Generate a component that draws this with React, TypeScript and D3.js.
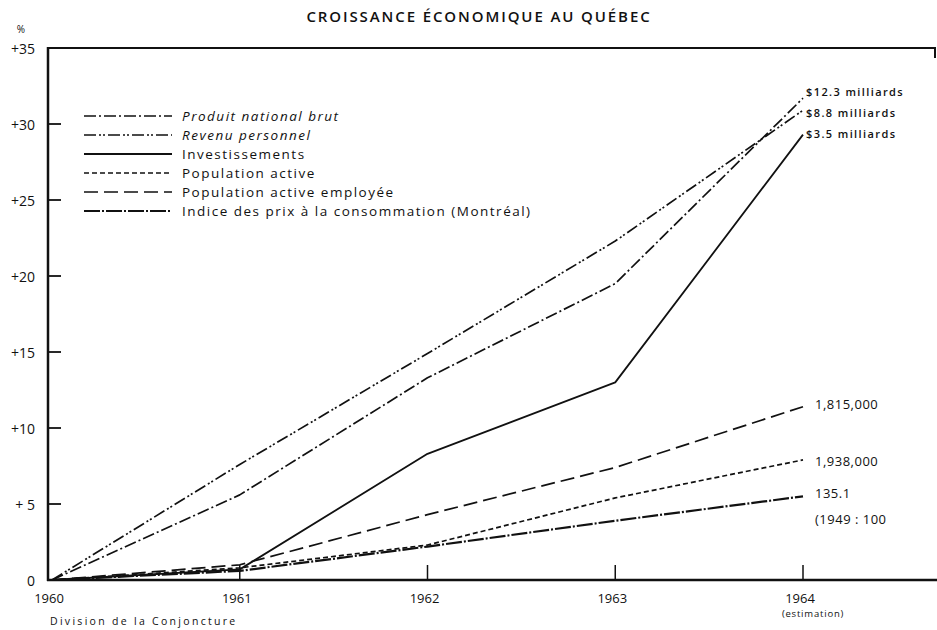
import React from "react";
import * as d3 from "d3";

const years = [1960, 1961, 1962, 1963, 1964];
const yTicks = [0, 5, 10, 15, 20, 25, 30, 35];
const yTickLabels = ["0", "+ 5", "+10", "+15", "+20", "+25", "+30", "+35"];
const xTickLabels = ["1960", "1961", "1962", "1963", "1964"];

const seriesNames = [
  "Produit national brut",
  "Revenu personnel",
  "Investissements",
  "Population active",
  "Population active employée",
  "Indice des prix à la consommation (Montréal)",
];
const pnb = [0, 5.6, 13.3, 19.5, 31.7];
const revenu = [0, 7.6, 14.9, 22.3, 30.9];
const invest = [0, 0.7, 8.3, 13.0, 29.3];
const popActive = [0, 0.8, 2.3, 5.4, 7.9];
const popEmployee = [0, 1.0, 4.3, 7.4, 11.4];
const indicePrix = [0, 0.6, 2.2, 3.9, 5.5];
const seriesValues = [pnb, revenu, invest, popActive, popEmployee, indicePrix];
const endLabels = [
  ["$12.3 milliards"],
  ["$8.8 milliards"],
  ["$3.5 milliards"],
  ["1,938,000"],
  ["1,815,000"],
  ["135.1", "(1949 :  100"],
];

const dashes = ["12,3,2,3", "12,3,2,2,2,3", "", "5,3", "14,6", "16,2,2,2"];
const widths = [1.7, 1.7, 1.8, 1.7, 1.7, 2.2];
const italic = [true, true, false, false, false, false];

const FONT = "'Open Sans', 'Noto Sans', sans-serif";

export default function App() {
  const W = 937, H = 630;
  const x = d3.scaleLinear().domain([1960, 1964]).range([52, 803]);
  const y = d3.scaleLinear().domain([0, 35]).range([580, 48]);
  const line = d3
    .line<number>()
    .x((_, i) => x(years[i]))
    .y((v) => y(v));

  const endLabelY = [92, 113, 134, 462, 405, 494];

  return (
    <svg
      width={W}
      height={H}
      style={{ position: "absolute", left: 0, top: 0, background: "#fff" }}
      fontFamily={FONT}
    >
      <rect x={0} y={0} width={W} height={H} fill="#fff" />
      <text x={479} y={22} textAnchor="middle" fontSize={15} fontWeight={600} letterSpacing={1.9} fill="#111">
        CROISSANCE ÉCONOMIQUE AU QUÉBEC
      </text>
      {/* frame */}
      <line x1={48} y1={y(35)} x2={935} y2={y(35)} stroke="#111" strokeWidth={2} />
      <line x1={935} y1={y(35) - 1} x2={935} y2={y(35) + 10} stroke="#111" strokeWidth={2} />
      <line x1={48} y1={y(35) - 1} x2={48} y2={y(0) + 1} stroke="#111" strokeWidth={2.5} />
      <line x1={47} y1={y(0)} x2={937} y2={y(0)} stroke="#111" strokeWidth={2.5} />
      <text x={21} y={33} fontSize={10} textAnchor="middle" fill="#111">%</text>
      {yTicks.map((t, i) => (
        <g key={t}>
          {t > 0 && t < 35 && (
            <line x1={48} x2={61} y1={y(t)} y2={y(t)} stroke="#111" strokeWidth={1.8} />
          )}
          <text x={35} y={y(t) + 6} fontSize={14} textAnchor="end" fill="#111">
            {yTickLabels[i]}
          </text>
        </g>
      ))}
      {years.map((yr, i) => (
        <g key={yr}>
          {i > 0 && (
            <line x1={x(yr)} x2={x(yr)} y1={y(0)} y2={y(0) - 15} stroke="#111" strokeWidth={1.5} />
          )}
          <text x={x(yr) - 3} y={603} fontSize={13} textAnchor="middle" fill="#111">
            {xTickLabels[i]}
          </text>
        </g>
      ))}
      <text x={813} y={617} fontSize={9.5} textAnchor="middle" letterSpacing={0.8} fill="#111">
        (estimation)
      </text>
      <text x={50} y={625} fontSize={10.5} letterSpacing={2.3} fill="#111">
        Division de la Conjoncture
      </text>

      {seriesValues.map((vals, i) => (
        <path
          key={i}
          d={line(vals) || ""}
          fill="none"
          stroke="#111"
          strokeWidth={widths[i]}
          strokeDasharray={dashes[i] || undefined}
          strokeLinejoin="round"
        />
      ))}

      {endLabels.map((lines, i) =>
        lines.map((t, j) => (
          <text
            key={i + "-" + j}
            x={i < 3 ? 806 : 815}
            y={endLabelY[i] + j * 26 + 4}
            fontSize={i < 3 ? 11 : 13}
            fontWeight={i < 3 ? 600 : 400}
            letterSpacing={i < 3 ? 1.4 : 0.5}
            fill="#111"
          >
            {t}
          </text>
        ))
      )}

      {/* legend */}
      {seriesNames.map((name, i) => {
        const ly = 116 + i * 19;
        return (
          <g key={name}>
            <line
              x1={84}
              x2={172}
              y1={ly}
              y2={ly}
              stroke="#111"
              strokeWidth={widths[i]}
              strokeDasharray={dashes[i] || undefined}
            />
            <text
              x={182}
              y={ly + 5}
              fontSize={13.5}
              fontStyle={italic[i] ? "italic" : "normal"}
              letterSpacing={1.5}
              fill="#111"
            >
              {name}
            </text>
          </g>
        );
      })}
    </svg>
  );
}
